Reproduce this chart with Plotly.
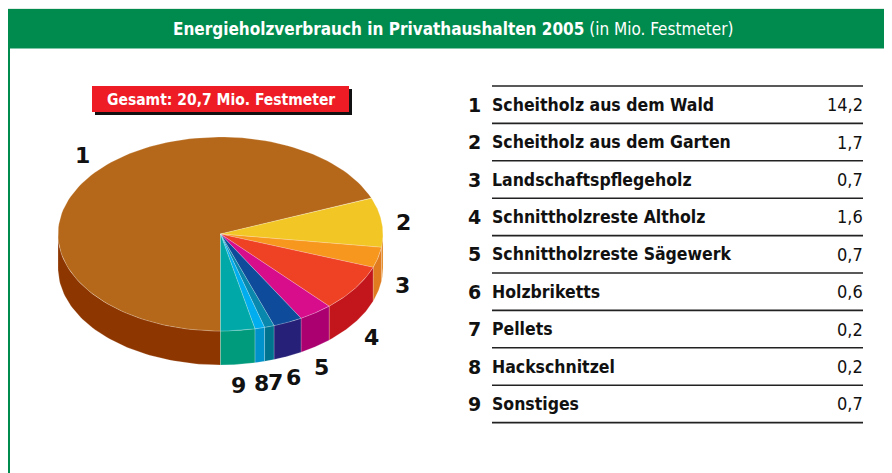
import numpy as np
import plotly.graph_objects as go

# ---- data ----
numbers = ["1", "2", "3", "4", "5", "6", "7", "8", "9"]
categories = ["Scheitholz aus dem Wald", "Scheitholz aus dem Garten", "Landschaftspflegeholz",
              "Schnittholzreste Altholz", "Schnittholzreste Sägewerk", "Holzbriketts",
              "Pellets", "Hackschnitzel", "Sonstiges"]
values = [14.2, 1.7, 0.7, 1.6, 0.7, 0.6, 0.2, 0.2, 0.7]
value_labels = ["14,2", "1,7", "0,7", "1,6", "0,7", "0,6", "0,2", "0,2", "0,7"]
title_bold = "Energieholzverbrauch in Privathaushalten 2005"
title_unit = "(in Mio. Festmeter)"
total_label = "Gesamt: 20,7 Mio. Festmeter"

# ---- style ----
top_colors = ["#B5681A", "#F2C624", "#F7971D", "#EF4124", "#D70D8C",
              "#0E4C9B", "#0A87AC", "#00AEEF", "#00A9A7"]
side_colors = ["#8E3600", "#E3861E", "#E07B1F", "#C3161C", "#AA0070",
               "#262079", "#00738F", "#0092CA", "#009A7C"]
W, H = 892, 473
OFF = 8  # page body margin
cx, cy, rx, ry, depth = 220.5, 234.0, 162.5, 97.0, 34.0
label_R = 20
label_nudge = [(13, -13), (2, 3), (5, -11), (0, 4), (-6, 5), (-3, 3), (0, 3), (-3, 2), (-1, 1)]
FONT_N = "DejaVu Sans Condensed, Liberation Sans Narrow, DejaVu Sans, sans-serif"

fig = go.Figure()

def ell(a_deg, dy=0.0):
    a = np.radians(a_deg)
    return cx + rx * np.cos(a), cy - ry * np.sin(a) + dy

total = sum(values)
deg = [v / total * 360 for v in values]
starts, ends = [], []
s = 270.0
for d in deg:
    starts.append(s)
    ends.append(s - d)
    s -= d

# side walls (front half only)
for i in range(len(values)):
    lo_s, hi_s = ends[i], starts[i]
    for (flo, fhi) in [(-180, 0), (180, 360)]:
        lo, hi = max(lo_s, flo), min(hi_s, fhi)
        if hi - lo <= 0:
            continue
        a = np.linspace(lo, hi, 60)
        xt, yt = ell(a)
        xb, yb = ell(a[::-1], depth)
        fig.add_trace(go.Scatter(
            x=np.concatenate([xt, xb, xt[:1]]), y=np.concatenate([yt, yb, yt[:1]]),
            mode="lines", fill="toself", fillcolor=side_colors[i],
            line=dict(color="rgba(255,255,255,0.35)", width=0.6),
            hoverinfo="skip", showlegend=False))

# top faces
for i in range(len(values)):
    a = np.linspace(starts[i], ends[i], 120)
    xa, ya = ell(a)
    fig.add_trace(go.Scatter(
        x=np.concatenate([[cx], xa, [cx]]), y=np.concatenate([[cy], ya, [cy]]),
        mode="lines", fill="toself", fillcolor=top_colors[i],
        line=dict(color="rgba(255,255,255,0.35)", width=0.6),
        hoverinfo="text", text=f"{numbers[i]} {categories[i]}: {value_labels[i]}",
        showlegend=False))

annotations = []
# pie labels
for i in range(len(values)):
    mid = np.radians((starts[i] + ends[i]) / 2)
    lx = cx + (rx + label_R) * np.cos(mid) + label_nudge[i][0]
    ly = cy - (ry + label_R) * np.sin(mid) + (depth if np.sin(mid) < 0 else 0) + label_nudge[i][1]
    annotations.append(dict(x=lx, y=ly, xref="x", yref="y", text=f"<b>{numbers[i]}</b>",
                            showarrow=False, font=dict(family="DejaVu Sans", size=22, color="#111111"),
                            xanchor="center", yanchor="middle"))

shapes = []
# frame
shapes.append(dict(type="rect", xref="x", yref="y", x0=7, x1=W + 20, y0=9, y1=H + 20,
                   fillcolor="#008B4E", line=dict(width=0), layer="below"))
shapes.append(dict(type="rect", xref="x", yref="y", x0=10, x1=W + 20, y0=48.5, y1=H + 20,
                   fillcolor="white", line=dict(width=0), layer="below"))
# title
annotations.append(dict(x=453, y=29, xref="x", yref="y", showarrow=False,
                        text=f"<b>{title_bold}</b> {title_unit}",
                        font=dict(family=FONT_N, size=17, color="white"),
                        xanchor="center", yanchor="middle"))
# red total box
shapes.append(dict(type="rect", xref="x", yref="y", x0=95, x1=352, y0=89, y1=115,
                   fillcolor="#111111", line=dict(width=0), layer="below"))
shapes.append(dict(type="rect", xref="x", yref="y", x0=92, x1=349, y0=86, y1=112,
                   fillcolor="#EE1C25", line=dict(width=0), layer="below"))
annotations.append(dict(x=220.5, y=99.5, xref="x", yref="y", showarrow=False,
                        text=f"<b>{total_label}</b>",
                        font=dict(family=FONT_N, size=15.5, color="white"),
                        xanchor="center", yanchor="middle"))

# table
row_h = 37.4
line0 = 86
for k in range(len(categories) + 1):
    yk = line0 + k * row_h
    shapes.append(dict(type="line", xref="x", yref="y", x0=492, x1=863, y0=yk, y1=yk,
                       line=dict(color="#222222", width=1.6)))
for i in range(len(categories)):
    yc = line0 + (i + 0.5) * row_h
    annotations.append(dict(x=474, y=yc, xref="x", yref="y", showarrow=False,
                            text=f"<b>{numbers[i]}</b>",
                            font=dict(family="DejaVu Sans", size=19, color="#111111"),
                            xanchor="center", yanchor="middle"))
    annotations.append(dict(x=490, y=yc, xref="x", yref="y", showarrow=False,
                            text=f"<b>{categories[i]}</b>",
                            font=dict(family=FONT_N, size=17.5, color="#111111"),
                            xanchor="left", yanchor="middle"))
    annotations.append(dict(x=865, y=yc, xref="x", yref="y", showarrow=False,
                            text=value_labels[i],
                            font=dict(family=FONT_N, size=18, color="#111111"),
                            xanchor="right", yanchor="middle"))

fig.update_layout(
    width=W, height=H, margin=dict(l=0, r=0, t=0, b=0),
    paper_bgcolor="#E1EDE5", plot_bgcolor="rgba(0,0,0,0)",
    xaxis=dict(range=[OFF, W + OFF], visible=False, fixedrange=True),
    yaxis=dict(range=[H + OFF, OFF], visible=False, fixedrange=True),
    shapes=shapes, annotations=annotations, showlegend=False,
)
fig.write_html("out.html", config={"displayModeBar": False})
